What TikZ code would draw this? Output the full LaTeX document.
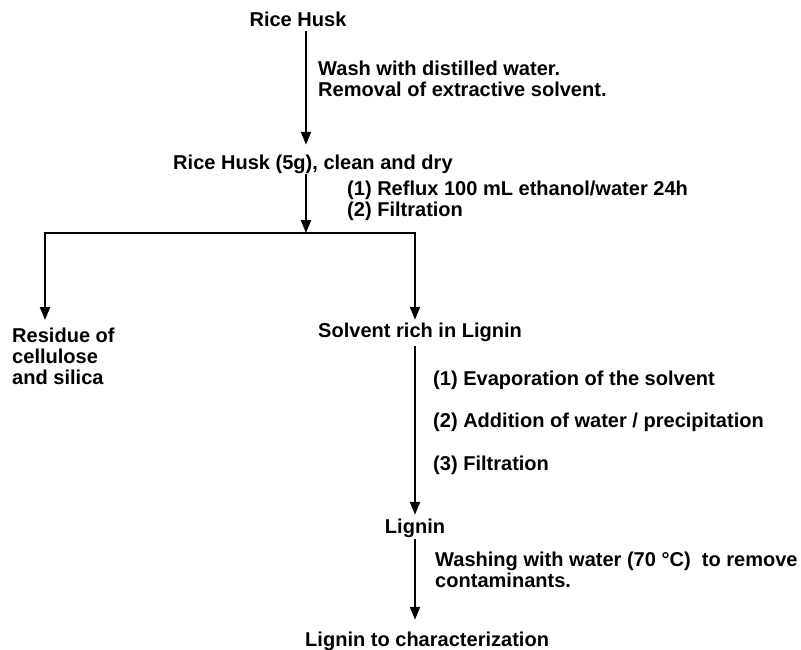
\documentclass[tikz,border=0pt]{standalone}
\usepackage{fontspec}
\setmainfont{Liberation Sans}
\usetikzlibrary{arrows.meta}
\tikzset{
    txt/.style={font=\fontsize{17.1}{17.9}\selectfont\bfseries, inner sep=0pt, text height=12pt, text depth=3.5pt},
    note/.style={font=\fontsize{17.1}{17.9}\selectfont\bfseries, inner sep=0pt, align=left, anchor=north west},
    flow/.style={line width=1.8pt, -{Triangle[length=11pt,width=8.5pt]}},
    fork/.style={line width=1.8pt, {Triangle[length=11pt,width=8.5pt]}-{Triangle[length=11pt,width=8.5pt]}}
}
\begin{document}
\begin{tikzpicture}[x=0.03cm, y=-0.03cm]
    \useasboundingbox (0, 0) rectangle (801, 650);

    % main steps
    \node[txt, anchor=base] (husk) at(298, 27){Rice Husk};
    \node[txt, anchor=base west] (clean) at(173, 170){Rice Husk (5g), clean and dry};
    \node[note] (residue) at(12, 328){Residue of\\cellulose\\and silica};
    \node[txt, anchor=base west] (solvent) at(318, 338){Solvent rich in Lignin};
    \node[txt, anchor=base] (lignin) at(415, 533){Lignin};
    \node[txt, anchor=base west] (final) at(305, 646){Lignin to characterization};

    % conditions
    \node[note] (wash) at(318, 61){Wash with distilled water.\\Removal of extractive solvent.};
    \node[note] (reflux) at(347, 181){(1) Reflux 100 mL ethanol/water 24h\\(2) Filtration};
    \node[txt, anchor=base west] (evap) at(433, 385){(1) Evaporation of the solvent};
    \node[txt, anchor=base west] (addwater) at(433, 427){(2) Addition of water / precipitation};
    \node[txt, anchor=base west] (filt) at(433, 470){(3) Filtration};
    \node[note] (washing) at(435, 552){Washing with water (70 °C)~ to remove\\contaminants.};

    \coordinate (split) at(306, 233);
    \coordinate (lft) at(45, 233);
    \coordinate (rgt) at(415, 233);

    \draw[flow, shorten >=0.33cm] (husk.south -| split) -- (clean.north -| split);
    \draw[flow] (clean.south -| split) -- (split);
        \draw[fork, shorten <=0.24cm, shorten >=0.12cm] (residue.north -| lft) -- (lft) -- (rgt) -- (solvent.north -| rgt);
    \draw[flow, shorten <=0.12cm, shorten >=0.12cm] (solvent.south -| rgt) -- (lignin.north);
    \draw[flow, shorten <=0.06cm, shorten >=0.36cm] (lignin.south) -- (final.north -| lignin);
\end{tikzpicture}
\end{document}
